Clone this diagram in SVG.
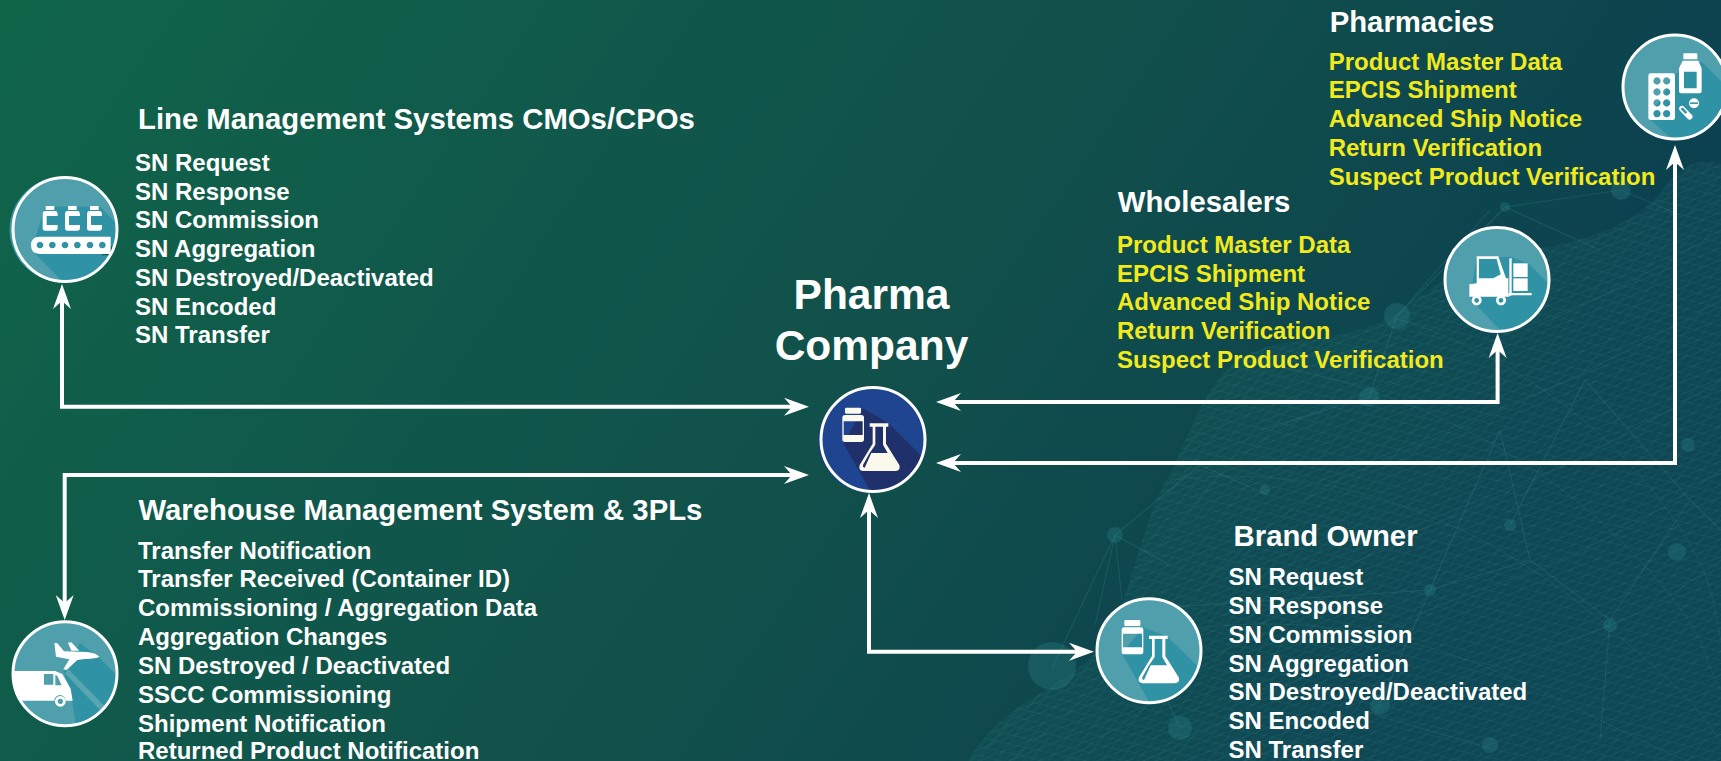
<svg xmlns="http://www.w3.org/2000/svg" xmlns:xlink="http://www.w3.org/1999/xlink" width="1721" height="761" viewBox="0 0 1721 761">
<style>
text{font-family:"Liberation Sans",Arial,sans-serif;font-weight:700;fill:#fff}
.h{font-size:29.3px}
.l{font-size:24px}
.y{fill:#f2ea1c}
.t{font-size:42.5px;text-anchor:middle}
.conn{fill:none;stroke:#fff;stroke-width:4;marker-start:url(#ah);marker-end:url(#ah)}
.base{fill:#509fac}
.sh{fill:#3092a5}
.ring{fill:none;stroke:#fff;stroke-width:3}
.ic{color:#fff;fill:#fff}
.net{fill:none;stroke:#3f9a9c;stroke-opacity:.22;stroke-width:1.1}
.dot{fill:#2a8486;fill-opacity:.32}
.wave{fill:none;stroke:#4aa8a8;stroke-opacity:.13;stroke-width:1}
</style>
<defs>
<linearGradient id="bg" x1="0" y1="0" x2="1" y2=".3">
<stop offset="0" stop-color="#106549"/><stop offset=".3" stop-color="#105a4b"/><stop offset=".6" stop-color="#11504b"/><stop offset="1" stop-color="#0b4050"/>
</linearGradient>
<pattern id="m1" width="16" height="11" patternUnits="userSpaceOnUse" patternTransform="rotate(-22)"><path d="M0 0H16M0 5.5H16M0 0L16 11" fill="none" stroke="#4aa8a8" stroke-opacity=".13" stroke-width=".9"/></pattern>
<pattern id="m2" width="14" height="19" patternUnits="userSpaceOnUse" patternTransform="rotate(38)"><path d="M0 0V19M7 0V19" fill="none" stroke="#4aa8a8" stroke-opacity=".12" stroke-width=".9"/></pattern>
<marker id="ah" markerUnits="userSpaceOnUse" markerWidth="25" markerHeight="18" viewBox="0 0 25 18" refX="8" refY="9" orient="auto-start-reverse"><path d="M0 0L25 9L0 18L8 9Z" fill="#fff"/></marker>
<path id="hillshape" d="M968 761C1000 700 1070 690 1105 640C1135 590 1140 520 1172 470C1195 420 1210 375 1245 355C1285 335 1340 345 1395 315C1440 280 1480 255 1530 250C1590 240 1640 225 1670 180C1690 160 1710 158 1721 165V761Z"/>
<clipPath id="hillclip"><use xlink:href="#hillshape" href="#hillshape"/></clipPath>
<clipPath id="c1"><circle cx="65" cy="229.5" r="52"/></clipPath>
<clipPath id="c2"><circle cx="65" cy="673.7" r="52"/></clipPath>
<clipPath id="c3"><circle cx="1497" cy="279.5" r="52"/></clipPath>
<clipPath id="c4"><circle cx="1675" cy="87" r="52"/></clipPath>
<clipPath id="c5"><circle cx="1149" cy="650.7" r="52"/></clipPath>
<clipPath id="c6"><circle cx="873" cy="439.5" r="52"/></clipPath>
<g id="labware">
<path fill="currentColor" d="M122 90H162Q166 90 166 94V104Q166 108 162 108H122Q118 108 118 104V94Q118 90 122 90Z"/>
<path fill="currentColor" fill-rule="evenodd" d="M118 112H167Q175 112 175 120V185Q175 193 167 193H118Q110 193 110 185V120Q110 112 118 112ZM114 131V172H171V131Z"/>
<path fill="currentColor" fill-rule="evenodd" d="M192 137H248V147H241V198L281 262Q286 278 270 280H172Q157 278 162 262L201 198V147H192ZM209 147V201L192 226L172 262Q171 270 177 270L197 226H246L232 201V147Z"/>
</g>
</defs>
<g id="background">
<rect width="1721" height="761" fill="url(#bg)"/>
<use xlink:href="#hillshape" href="#hillshape" fill="#1f6a6c" fill-opacity=".16"/>
<use xlink:href="#hillshape" href="#hillshape" fill="url(#m1)"/>
<use xlink:href="#hillshape" href="#hillshape" fill="url(#m2)"/>
<g clip-path="url(#hillclip)">
<path class="wave" d="M960 770C1120 640 1180 470 1300 420S1560 330 1721 230M990 775C1150 660 1240 520 1360 470S1580 380 1721 300M1040 775C1190 690 1300 580 1420 530S1620 440 1721 380M1110 775C1250 720 1360 630 1480 590S1660 510 1721 470M1200 775C1320 740 1440 680 1540 650S1680 590 1721 560M1130 640C1300 600 1440 640 1560 700S1680 760 1721 770M1170 480C1330 460 1480 520 1600 620S1700 720 1721 740M1240 360C1380 380 1520 440 1620 540S1700 660 1721 690M1400 320C1500 350 1600 420 1660 500S1710 600 1721 640"/>
</g>
<path class="net" d="M1115 535L1200 465L1268 495M1115 535L1122 600M1115 535L1170 565M1115 535L1095 625M1052 668L1115 535M1397 316L1505 207L1621 190L1680 215M1505 207L1600 250M1505 207L1470 245M1397 316L1490 210M1369 397L1397 316M1369 397L1260 430M1500 430L1430 590L1530 560L1610 620L1690 500L1721 530M1430 590L1375 715L1480 745M1530 560L1500 430M1610 620L1600 740M1690 500L1585 380L1510 525M1180 728L1125 610L1430 590"/>
<circle class="dot" cx="1052" cy="666" r="24"/>
<circle class="dot" cx="1115" cy="535" r="8"/>
<circle class="dot" cx="1180" cy="728" r="12"/>
<circle class="dot" cx="1397" cy="316" r="13"/>
<circle class="dot" cx="1621" cy="190" r="10"/>
<circle class="dot" cx="1505" cy="207" r="5"/>
<circle class="dot" cx="1369" cy="397" r="10"/>
<circle class="dot" cx="1688" cy="445" r="7"/>
<circle class="dot" cx="1380" cy="705" r="10"/>
<circle class="dot" cx="1430" cy="590" r="6"/>
<circle class="dot" cx="1510" cy="525" r="6"/>
<circle class="dot" cx="1265" cy="490" r="5"/>
<circle class="dot" cx="1610" cy="625" r="7"/>
<circle class="dot" cx="1677" cy="552" r="9"/>
<circle class="dot" cx="1490" cy="745" r="8"/>
</g>
<g id="connectors">
<path class="conn" d="M62 301V406.7H792"/>
<path class="conn" d="M792 475H64.7V603"/>
<path class="conn" d="M953 402H1497.6V350"/>
<path class="conn" d="M953 463H1675V162"/>
<path class="conn" d="M869 510V651.7H1077"/>
</g>
<g id="node-line-management">
<circle cx="62" cy="229.5" r="52.5" fill="#3a96a6"/>
<circle class="base" cx="65" cy="229.5" r="52"/>
<g clip-path="url(#c1)"><g transform="translate(0 160) scale(.33333)">
<path class="sh" d="M135 140H300L400 240V420H240L95 270Z"/>
<path fill="#10584e" d="M330 258L345 262L338 286H305Z"/>
<g class="ic">
<path id="vial" fill-rule="evenodd" d="M137 138H163V150H137ZM134 153H166Q173 153 173 165V203Q173 212 165 212H135Q128 212 128 203V165Q128 153 134 153ZM140 168V195H173V168Z"/>
<use xlink:href="#vial" href="#vial" x="67"/>
<use xlink:href="#vial" href="#vial" x="133"/>
<path fill-rule="evenodd" d="M119 230H332V282H119Q93 282 93 256Q93 230 119 230ZM120 245a10 10 0 1 0 .01 0ZM157 245a10 10 0 1 0 .01 0ZM195 245a10 10 0 1 0 .01 0ZM232 245a10 10 0 1 0 .01 0ZM270 245a10 10 0 1 0 .01 0ZM307 245a10 10 0 1 0 .01 0Z"/>
</g></g></g>
<circle class="ring" cx="65" cy="229.5" r="52"/>
<text class="h" x="138" y="129">Line Management Systems CMOs/CPOs</text>
<g class="l"><text x="135" y="170.7">SN Request</text><text x="135" y="199.5">SN Response</text><text x="135" y="228.3">SN Commission</text><text x="135" y="257.2">SN Aggregation</text><text x="135" y="286">SN Destroyed/Deactivated</text><text x="135" y="314.8">SN Encoded</text><text x="135" y="343">SN Transfer</text></g>
</g>
<g id="node-warehouse">
<circle class="base" cx="65" cy="673.7" r="52"/>
<g clip-path="url(#c2)"><g transform="translate(0 610) scale(.33333)">
<path class="sh" d="M190 180L240 100L295 140L420 265V420H240L215 265Z"/>
<path d="M195 190L205 178L320 295L305 305Z" fill="#58a6b0"/>
<g class="ic">
<path d="M163 98L172 100L192 124L262 126Q290 130 298 140Q290 146 255 147L232 150L200 180L190 178L208 148L176 142L168 140ZM204 98L214 97L238 122L214 122Z"/>
<path fill-rule="evenodd" d="M20 183H165L187 192L212 236L218 272L197 272A17 17 0 0 0 163 272H20ZM132 192V224H160V192ZM166 194V226H185L172 198Z"/>
<path fill-rule="evenodd" d="M181 258a16 16 0 1 0 .01 0ZM181 266a8 8 0 1 1 -.01 0Z"/>
</g></g></g>
<circle class="ring" cx="65" cy="673.7" r="52"/>
<text class="h" x="138.5" y="520">Warehouse Management System &amp; 3PLs</text>
<g class="l"><text x="138" y="558.8">Transfer Notification</text><text x="138" y="587">Transfer Received (Container ID)</text><text x="138" y="616">Commissioning / Aggregation Data</text><text x="138" y="645">Aggregation Changes</text><text x="138" y="674">SN Destroyed / Deactivated</text><text x="138" y="703">SSCC Commissioning</text><text x="138" y="731.5">Shipment Notification</text><text x="138" y="758.5">Returned Product Notification</text></g>
</g>
<g id="node-pharma-company">
<circle cx="870.5" cy="440.5" r="52.5" fill="#1a3e7c"/>
<circle cx="873" cy="439.5" r="52" fill="#1f4590"/>
<g clip-path="url(#c6)"><g transform="translate(810 380) scale(.33333)">
<path fill="#20306a" d="M160 85L235 130L400 290V420H230L100 190Z"/>
<use xlink:href="#labware" href="#labware" x="-13" y="-7" style="color:#fbf9ec"/>
</g></g>
<circle class="ring" cx="873" cy="439.5" r="52"/>
<text class="t" x="871.5" y="309">Pharma</text>
<text class="t" x="871.5" y="360">Company</text>
</g>
<g id="node-wholesalers">
<circle class="base" cx="1497" cy="279.5" r="52"/>
<g clip-path="url(#c3)"><g transform="translate(1430 215) scale(.33333)">
<path class="sh" d="M295 145L420 270V420H280L120 250L140 130L240 125Z"/>
<g class="ic">
<path fill-rule="evenodd" d="M140 124H205L228 190H235V245H118V208L140 205ZM147 132V190H190L212 178L200 132Z"/>
<rect x="238" y="130" width="7" height="105"/>
<rect x="250" y="145" width="43" height="41"/>
<rect x="250" y="190" width="43" height="38"/>
<path d="M235 234H305V241H245L235 246Z"/>
<path fill-rule="evenodd" d="M140 241a15 15 0 1 0 .01 0ZM140 249a7 7 0 1 1 -.01 0ZM213 241a15 15 0 1 0 .01 0ZM213 249a7 7 0 1 1 -.01 0Z"/>
</g></g></g>
<circle class="ring" cx="1497" cy="279.5" r="52"/>
<text class="h" x="1117.8" y="212">Wholesalers</text>
<g class="l"><text class="y" x="1117" y="252.7">Product Master Data</text><text class="y" x="1117" y="281.5">EPCIS Shipment</text><text class="y" x="1117" y="310.3">Advanced Ship Notice</text><text class="y" x="1117" y="339.3">Return Verification</text><text class="y" x="1117" y="368">Suspect Product Verification</text></g>
</g>
<g id="node-pharmacies">
<circle class="base" cx="1675" cy="87" r="52"/>
<g clip-path="url(#c4)"><g transform="translate(1610 20) scale(.33333)">
<path class="sh" d="M275 125L420 270V420H260L115 295L200 160Z"/>
<g class="ic">
<rect x="220" y="100" width="42" height="18" rx="2"/>
<path fill-rule="evenodd" d="M218 122H265L275 145V212Q275 220 266 220H216Q207 220 207 212V145ZM222 155V205H260V155Z"/>
<path fill-rule="evenodd" d="M122 160H188Q195 160 195 167V293Q195 300 188 300H122Q115 300 115 293V167Q115 160 122 160ZM141 172a11 11 0 1 0 .01 0ZM170 172a11 11 0 1 0 .01 0ZM141 205a11 11 0 1 0 .01 0ZM170 205a11 11 0 1 0 .01 0ZM141 238a11 11 0 1 0 .01 0ZM170 238a11 11 0 1 0 .01 0ZM141 270a11 11 0 1 0 .01 0ZM170 270a11 11 0 1 0 .01 0Z"/>
<path d="M216 266L239 290" stroke="#fff" stroke-width="17" stroke-linecap="round"/>
<path d="M217 267L227 277" stroke="#3f98a8" stroke-width="8" stroke-linecap="round"/>
<circle cx="252" cy="250" r="15"/>
</g>
<rect x="240" y="247" width="24" height="5" fill="#3f98a8"/>
</g></g>
<circle class="ring" cx="1675" cy="87" r="52"/>
<text class="h" x="1329.7" y="32.3">Pharmacies</text>
<g class="l"><text class="y" x="1328.7" y="69.8">Product Master Data</text><text class="y" x="1328.7" y="98">EPCIS Shipment</text><text class="y" x="1328.7" y="127">Advanced Ship Notice</text><text class="y" x="1328.7" y="156">Return Verification</text><text class="y" x="1328.7" y="184.5">Suspect Product Verification</text></g>
</g>
<g id="node-brand-owner">
<circle class="base" cx="1149" cy="650.7" r="52"/>
<g clip-path="url(#c5)"><g transform="translate(1085 590) scale(.33333)">
<path class="sh" d="M175 112L248 140L420 310V420H240L110 190Z"/>
<use xlink:href="#labware" href="#labware" style="color:#fff"/>
</g></g>
<circle class="ring" cx="1149" cy="650.7" r="52"/>
<text class="h" x="1233.6" y="546">Brand Owner</text>
<g class="l"><text x="1228.5" y="585">SN Request</text><text x="1228.5" y="614">SN Response</text><text x="1228.5" y="643">SN Commission</text><text x="1228.5" y="671.6">SN Aggregation</text><text x="1228.5" y="700">SN Destroyed/Deactivated</text><text x="1228.5" y="729">SN Encoded</text><text x="1228.5" y="757.5">SN Transfer</text></g>
</g>
</svg>
